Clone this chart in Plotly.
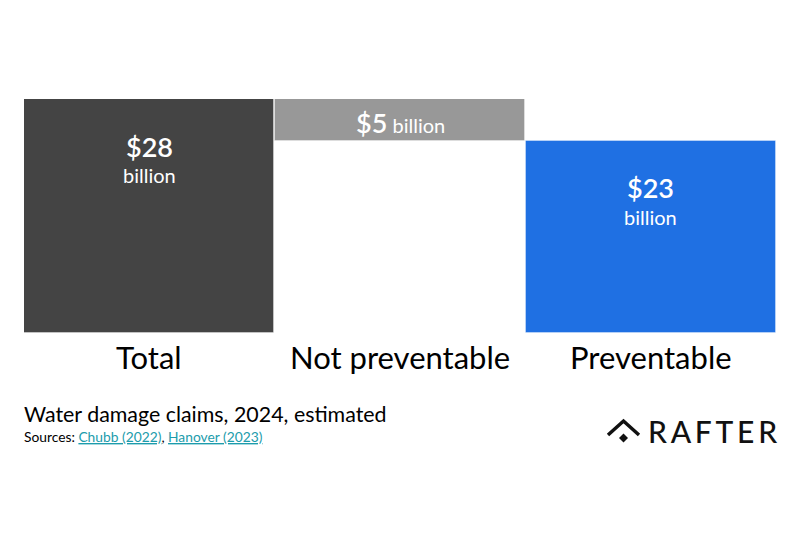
import plotly.graph_objects as go

# data (billions of USD)
categories = ["Total", "Not preventable", "Preventable"]
bar_bases = [0, 23, 0]
bar_values = [28, 5, 23]
bar_colors = ["#444444", "#989898", "#1f70e3"]
caption = "Water damage claims, 2024, estimated"
sources = [("Chubb (2022)", "https://www.chubb.com"), ("Hanover (2023)", "https://www.hanover.com")]

FONT = "Lato"
# page has an 8px body margin, so the figure is a bit smaller than the window
OFF = 8
W, H = 784, 527
ML, MR, MT, MB = 16, 16, 91, 202


def px(x):
    # window pixel -> paper x
    return (x - OFF - ML) / (W - ML - MR)


def py(y):
    # window pixel -> paper y
    return (H - MB - (y - OFF)) / (H - MT - MB)


fig = go.Figure(go.Bar(
    x=categories,
    y=bar_values,
    base=bar_bases,
    marker=dict(color=bar_colors, line=dict(color="rgba(255,255,255,0.35)", width=1)),
    width=0.998,
    hoverinfo="skip",
))

annotations = []
for cat, b, v in zip(categories, bar_bases, bar_values):
    top = b + v
    if v < 10:
        # short bar: value on one line
        annotations.append(dict(
            x=cat, y=b + v / 2, xref="x", yref="y", showarrow=False, yshift=-3,
            text=f"<span style='font-size:27px;font-weight:600'>${v}</span> billion",
            font=dict(family=FONT, size=20, color="white"),
        ))
    else:
        annotations.append(dict(
            x=cat, y=top, xref="x", yref="y", showarrow=False, yshift=-47,
            text=f"${v}", font=dict(family=FONT, size=27, color="white", weight=600),
        ))
        annotations.append(dict(
            x=cat, y=top, xref="x", yref="y", showarrow=False, yshift=-76,
            text="billion", font=dict(family=FONT, size=20, color="white"),
        ))
    annotations.append(dict(
        x=cat, y=0, xref="x", yref="y", showarrow=False, yshift=-24,
        text=cat, font=dict(family=FONT, size=31, color="black"),
    ))

annotations.append(dict(
    x=0, y=0, xref="paper", yref="y", xanchor="left", showarrow=False, yshift=-81, xshift=-2,
    text=caption, font=dict(family=FONT, size=21.4, color="black"),
))
links = ", ".join(
    f"<a href='{url}'><span style='color:#1c9cac'><u>{name}</u></span></a>" for name, url in sources
)
annotations.append(dict(
    x=0, y=0, xref="paper", yref="y", xanchor="left", showarrow=False, yshift=-103, xshift=-2,
    text="Sources: " + links, font=dict(family=FONT, size=13.8, color="black"),
))
annotations.append(dict(
    x=1, y=0, xref="paper", yref="y", xanchor="right", showarrow=False, yshift=-98, xshift=3,
    text="R\u2009A\u2009F\u2009T\u2009E\u2009R", font=dict(family=FONT, size=30, color="#111111", weight=500),
))

# logo mark: roof chevron + diamond
shapes = [
    dict(type="path", xref="paper", yref="paper",
         path=f"M {px(608)} {py(435)} L {px(623.5)} {py(421)} L {px(639)} {py(435)}",
         line=dict(color="#111111", width=3.5)),
    dict(type="path", xref="paper", yref="paper",
         path=f"M {px(623.5)} {py(433.5)} L {px(628)} {py(438)} L {px(623.5)} {py(442.5)} L {px(619)} {py(438)} Z",
         fillcolor="#111111", line=dict(width=0)),
]

fig.update_layout(
    width=W, height=H,
    margin=dict(l=ML, r=MR, t=MT, b=MB),
    paper_bgcolor="white", plot_bgcolor="white",
    bargap=0,
    showlegend=False,
    xaxis=dict(visible=False),
    yaxis=dict(visible=False, range=[0, 28]),
    annotations=annotations,
    shapes=shapes,
)

fig.write_html("out.html")
